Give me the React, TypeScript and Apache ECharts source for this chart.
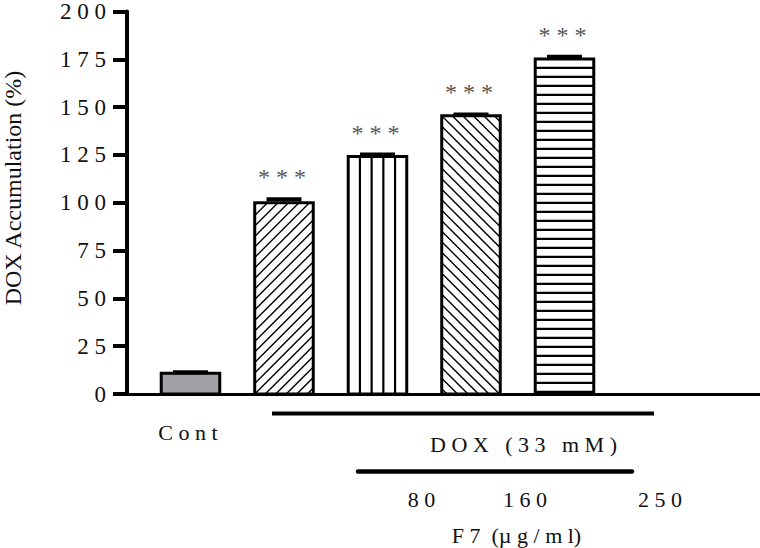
import React, { useEffect, useRef } from 'react';
import * as echarts from 'echarts';

// ---- data ----
const categories = ['Cont', 'DOX', 'DOX + F7 80', 'DOX + F7 160', 'DOX + F7 250'];
const positions = [1, 2, 3, 4, 5];
const values = [10.8, 100, 124.2, 145.5, 175.2];
const errors = [0.6, 1.8, 1.0, 0.7, 1.2];
const significance = ['', '***', '***', '***', '***'];
const patterns = ['solid', 'fwd', 'vert', 'back', 'horiz'];
const yName = 'DOX Accumulation (%)';
const contLabel = 'Cont';
const doxLabel = 'DOX (33 mM)';
const doseLabels = ['80', '160', '250'];
const f7Label = 'F7 (µg/ml)';

const NB = '\u00A0';
const sp = (s: string) => s.split('').join(NB);
const FONT = '"Liberation Serif", "Times New Roman", serif';

export default function App() {
  const ref = useRef<HTMLDivElement>(null);
  useEffect(() => {
    document.body.style.margin = '0';
    if (!ref.current) return;
    const chart = echarts.init(ref.current, undefined, { renderer: 'svg' });

    const data = positions.map((p, i) => [p, values[i], errors[i]]);

    const renderItem = (params: any, api: any) => {
      const i = params.dataIndex;
      const x = api.value(0);
      const v = api.value(1);
      const e = api.value(2);
      const base = api.coord([x, 0]);
      const top = api.coord([x, v]);
      const capPt = api.coord([x, v + e]);
      const slot = api.size([1, 0])[0];
      const w = slot * 0.626;
      const cx = base[0];
      const x0 = cx - w / 2;
      const x1 = cx + w / 2;
      const y0 = top[1];
      const y1 = base[1];
      const pat = patterns[i];
      const children: any[] = [];
      children.push({
        type: 'rect',
        shape: { x: x0, y: y0, width: w, height: y1 - y0 },
        style: { fill: pat === 'solid' ? '#a2a2a6' : '#ffffff' },
      });
      const lines: number[][] = [];
      let lw = 1.4;
      if (pat === 'fwd') {
        const s = 10.5;
        const cBase = x0 + y1;
        const kmin = Math.ceil((x0 + y0 - cBase) / s);
        const kmax = Math.floor((x1 + y1 - cBase) / s);
        for (let k = kmin; k <= kmax; k++) {
          const c = cBase + k * s;
          const xa = Math.max(x0, c - y1);
          const xb = Math.min(x1, c - y0);
          if (xb - xa > 0.5) lines.push([xa, c - xa, xb, c - xb]);
        }
      } else if (pat === 'back') {
        const s = 10.5;
        const cBase = x0 - y0;
        const kmin = Math.ceil((x0 - y1 - cBase) / s);
        const kmax = Math.floor((x1 - y0 - cBase) / s);
        for (let k = kmin; k <= kmax; k++) {
          const c = cBase + k * s;
          const xa = Math.max(x0, c + y0);
          const xb = Math.min(x1, c + y1);
          if (xb - xa > 0.5) lines.push([xa, xa - c, xb, xb - c]);
        }
      } else if (pat === 'vert') {
        lw = 2.2;
        for (let k = 1; k < 5; k++) {
          const xx = x0 + (k * w) / 5;
          lines.push([xx, y0, xx, y1]);
        }
      } else if (pat === 'horiz') {
        lw = 2.2;
        for (let yy = y0 + 9; yy < y1 - 2; yy += 9) {
          lines.push([x0, yy, x1, yy]);
        }
      }
      lines.forEach((l) => {
        children.push({
          type: 'line',
          shape: { x1: l[0], y1: l[1], x2: l[2], y2: l[3] },
          style: { stroke: '#000', lineWidth: lw },
        });
      });
      children.push({
        type: 'rect',
        shape: { x: x0, y: y0, width: w, height: y1 - y0 },
        style: { fill: 'none', stroke: '#000', lineWidth: 3 },
      });
      // error bar
      children.push({
        type: 'line',
        shape: { x1: cx, y1: y0, x2: cx, y2: capPt[1] },
        style: { stroke: '#000', lineWidth: 2 },
      });
      children.push({
        type: 'line',
        shape: { x1: cx - 17.5, y1: capPt[1], x2: cx + 17.5, y2: capPt[1] },
        style: { stroke: '#000', lineWidth: 4 },
      });
      if (significance[i]) {
        children.push({
          type: 'text',
          x: cx - 2,
          y: capPt[1] - 22,
          style: {
            text: sp(significance[i]),
            fill: '#555',
            font: `24px ${FONT}`,
            align: 'center',
            verticalAlign: 'middle',
          },
        });
      }
      return { type: 'group', children };
    };

    const textStyle = (size: number) => ({ fill: '#111', font: `${size}px ${FONT}` });

    chart.setOption({
      animation: false,
      backgroundColor: '#ffffff',
      grid: { left: 127, right: 0, top: 9, bottom: 154, containLabel: false },
      xAxis: {
        type: 'value',
        min: 0.321,
        max: 7.091,
        axisLine: { show: true, onZero: false, lineStyle: { color: '#000', width: 3 } },
        axisTick: { show: false },
        axisLabel: { show: false },
        splitLine: { show: false },
      },
      yAxis: {
        type: 'value',
        min: 0,
        max: 200,
        interval: 25,
        axisLine: { show: true, onZero: false, lineStyle: { color: '#000', width: 4 } },
        axisTick: { show: true, length: 14, lineStyle: { color: '#000', width: 4 } },
        axisLabel: {
          margin: 21,
          color: '#111',
          fontSize: 23,
          fontFamily: FONT,
          formatter: (val: number) => sp(String(val)),
        },
        splitLine: { show: false },
      },
      series: [
        {
          type: 'custom',
          name: 'DOX accumulation',
          renderItem,
          data,
          encode: { x: 0, y: 1 },
          clip: false,
        },
      ],
      graphic: [
        {
          type: 'text',
          x: 13,
          y: 188,
          rotation: Math.PI / 2,
          style: { text: yName, ...textStyle(24), align: 'center', verticalAlign: 'middle' },
        },
        {
          type: 'text',
          x: 188,
          y: 432,
          style: { text: sp(contLabel), ...textStyle(22), align: 'center', verticalAlign: 'middle' },
        },
        {
          type: 'line',
          shape: { x1: 272, y1: 413.5, x2: 654, y2: 413.5 },
          style: { stroke: '#000', lineWidth: 4 },
        },
        {
          type: 'text',
          x: 430,
          y: 444,
          style: { text: sp(doxLabel), ...textStyle(22), align: 'left', verticalAlign: 'middle' },
        },
        {
          type: 'line',
          shape: { x1: 358, y1: 471.5, x2: 632, y2: 471.5 },
          style: { stroke: '#000', lineWidth: 4.5, lineCap: 'round' },
        },
        ...doseLabels.map((d, k) => ({
          type: 'text',
          x: [421.5, 525, 660][k],
          y: 499,
          style: { text: sp(d), ...textStyle(22), align: 'center', verticalAlign: 'middle' },
        })),
        {
          type: 'text',
          x: 516.5,
          y: 535,
          style: {
            text: `F${NB}7${NB}${NB}(µ${NB}g${NB}/${NB}m${NB}l)`,
            ...textStyle(22),
            align: 'center',
            verticalAlign: 'middle',
          },
        },
      ],
    });
    return () => chart.dispose();
  }, []);
  return <div ref={ref} style={{ width: 760, height: 548 }} />;
}
